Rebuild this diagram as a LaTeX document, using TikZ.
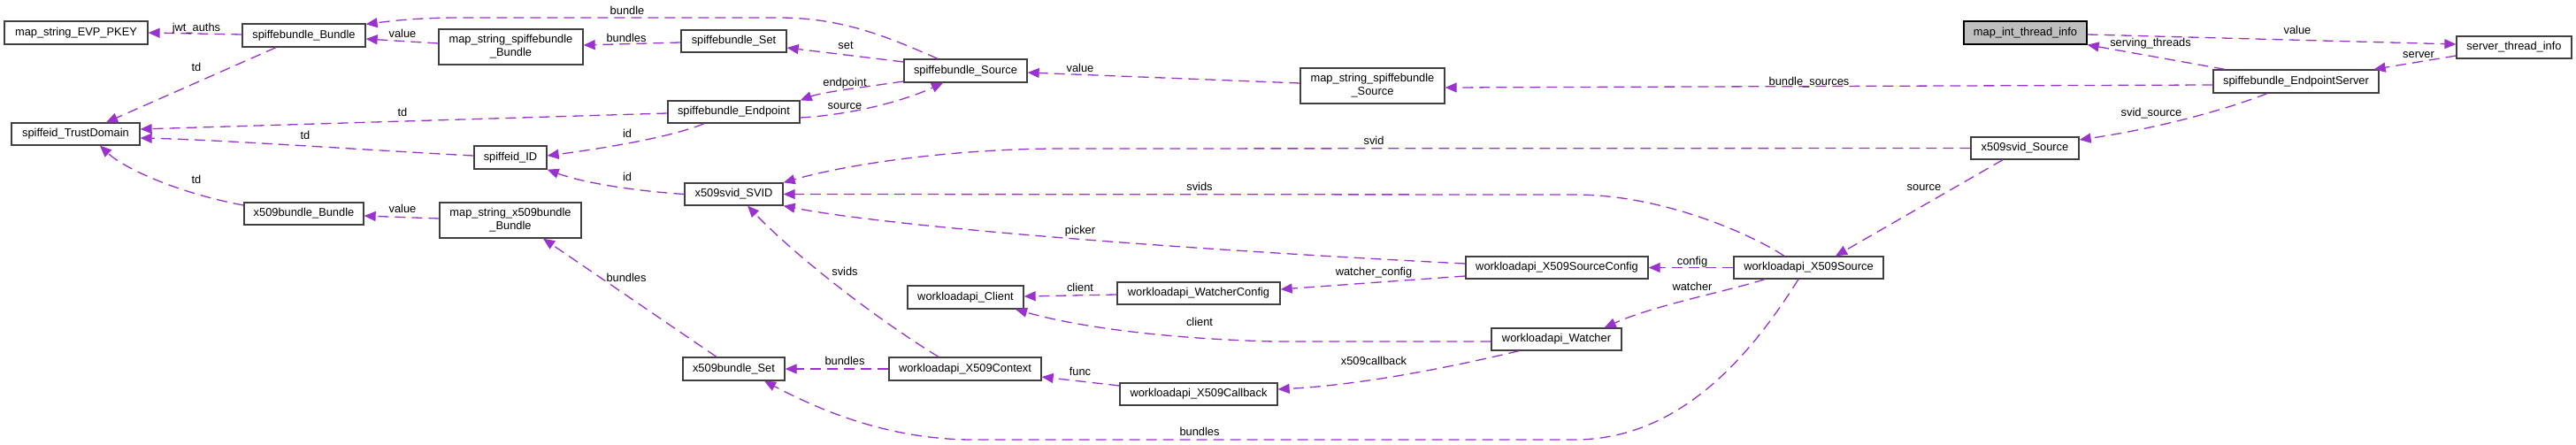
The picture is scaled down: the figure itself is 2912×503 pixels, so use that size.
\documentclass[tikz,border=0pt]{standalone}
\usepackage{fontspec}
\setmainfont{Liberation Sans}
\usetikzlibrary{arrows.meta,calc}
\definecolor{edgec}{HTML}{9A32CD}
\definecolor{boxc}{HTML}{404040}
\definecolor{rootfill}{HTML}{BFBFBF}
\tikzset{
  box/.style={draw=boxc, line width=1.3pt, fill=white, inner sep=0pt, align=center,
    font=\fontsize{12.85}{15}\selectfont},
  rootbox/.style={box, draw=black, fill=rootfill},
  usearrow/.style={draw=edgec, line width=1.3pt, dash pattern=on 12pt off 7pt,
    -{Triangle[length=13pt,width=11pt]}},
  lbl/.style={font=\fontsize{12.85}{15}\selectfont, inner sep=0pt, anchor=base},
}
\begin{document}
\begin{tikzpicture}[x=1pt,y=-1pt]
\useasboundingbox (0,0) rectangle (2912,503);
% nodes
\node[box, minimum width=162pt, minimum height=26pt] (evp) at (86,37) {map\_string\_EVP\_PKEY};
\node[box, minimum width=139pt, minimum height=26pt] (sbBundle) at (343.5,40) {spiffebundle\_Bundle};
\node[box, minimum width=145pt, minimum height=25pt] (td) at (85.5,151.5) {spiffeid\_TrustDomain};
\node[box, minimum width=135pt, minimum height=25pt] (xbBundle) at (343.5,241.5) {x509bundle\_Bundle};
\node[box, minimum width=163pt, minimum height=40pt] (mapSbB) at (577.5,53) {map\_string\_spiffebundle\\\_Bundle};
\node[box, minimum width=119pt, minimum height=25pt] (sbSet) at (829.5,46.5) {spiffebundle\_Set};
\node[box, minimum width=149pt, minimum height=25pt] (sbEndpoint) at (829.5,126.5) {spiffebundle\_Endpoint};
\node[box, minimum width=82pt, minimum height=26pt] (sid) at (577,178) {spiffeid\_ID};
\node[box, minimum width=111pt, minimum height=25pt] (svid) at (829.5,219.5) {x509svid\_SVID};
\node[box, minimum width=160pt, minimum height=40pt] (mapXbB) at (577,249) {map\_string\_x509bundle\\\_Bundle};
\node[box, minimum width=115pt, minimum height=26pt] (xbSet) at (829.5,417) {x509bundle\_Set};
\node[box, minimum width=139pt, minimum height=26pt] (sbSource) at (1091.5,80) {spiffebundle\_Source};
\node[box, minimum width=131pt, minimum height=26pt] (wClient) at (1091.5,336) {workloadapi\_Client};
\node[box, minimum width=184pt, minimum height=25pt] (wWConfig) at (1355,331.5) {workloadapi\_WatcherConfig};
\node[box, minimum width=172pt, minimum height=26pt] (wCtx) at (1091,417) {workloadapi\_X509Context};
\node[box, minimum width=178pt, minimum height=25pt] (wCb) at (1355,445.5) {workloadapi\_X509Callback};
\node[box, minimum width=163pt, minimum height=40pt] (mapSbS) at (1551.5,97) {map\_string\_spiffebundle\\\_Source};
\node[box, minimum width=206pt, minimum height=25pt] (wSC) at (1760,302.5) {workloadapi\_X509SourceConfig};
\node[box, minimum width=147pt, minimum height=25pt] (wWatcher) at (1759.5,383.5) {workloadapi\_Watcher};
\node[rootbox, minimum width=139pt, minimum height=26pt] (mit) at (2289.5,37) {map\_int\_thread\_info};
\node[box, minimum width=122pt, minimum height=25pt] (xsSource) at (2289,167.5) {x509svid\_Source};
\node[box, minimum width=169pt, minimum height=25pt] (wXS) at (2044.5,302.5) {workloadapi\_X509Source};
\node[box, minimum width=130pt, minimum height=25pt] (sti) at (2842,53.5) {server\_thread\_info};
\node[box, minimum width=187pt, minimum height=26pt] (sbES) at (2595.5,92) {spiffebundle\_EndpointServer};

% edges
\draw[usearrow] ($(sbBundle.west)+(0,-1)$) -- (evp.east);
\draw[usearrow] ($(sbBundle.south)+(-31.5,0)$) -- ($(td.north)+(34.5,0)$);
\draw[usearrow] ($(sbEndpoint.west)+(0,1.5)$) -- ($(td.east)+(0,-5.5)$);
\draw[usearrow] ($(sid.west)+(0,-2)$) .. controls (420,170) and (250,158) .. ($(td.east)+(0,4.5)$);
\draw[usearrow] ($(xbBundle.west)+(0,-9.5)$) .. controls (200,218) and (140,190) .. ($(td.south)+(27.5,0)$);
\draw[usearrow] ($(mapSbB.west)+(0,-4)$) -- ($(sbBundle.east)+(0,4)$);
\draw[usearrow] ($(sbSource.north)+(-31.5,0)$) .. controls (1000,40) and (950,20) .. (880,20)
   -- (520,20) .. controls (470,20) and (440,24) .. ($(sbBundle.north east)+(0,1)$);
\draw[usearrow] ($(sbSet.west)+(0,1.5)$) -- ($(mapSbB.east)+(0,-2)$);
\draw[usearrow] ($(sbSource.west)+(0,-10)$) -- ($(sbSet.east)+(0,7.5)$);
\draw[usearrow] ($(sbSource.west)+(0,12)$) .. controls (980,98) and (930,104) .. (sbEndpoint.north east);
\draw[usearrow] ($(sbEndpoint.east)+(0,6.5)$) .. controls (960,130) and (1020,115) .. ($(sbSource.south)+(-25.5,0)$);
\draw[usearrow] ($(sbEndpoint.south)+(-33.5,0)$) .. controls (760,155) and (680,168) .. ($(sid.east)+(0,-2)$);
\draw[usearrow] (svid.west) .. controls (720,216) and (660,207) .. (sid.south east);
\draw[usearrow] ($(mapXbB.west)+(0,-2)$) -- ($(xbBundle.east)+(0,2.5)$);
\draw[usearrow] ($(xbSet.north)+(-19.5,0)$) -- ($(mapXbB.south)+(37,0)$);
\draw[usearrow] (wCtx.west) -- (xbSet.east);
\draw[usearrow] ($(wCtx.north)+(-30,0)$) .. controls (990,360) and (900,290) .. ($(svid.south)+(15.5,0)$);
\draw[usearrow] ($(wXS.south)+(-11.5,0)$) .. controls (1980,400) and (1900,497) .. (1780,497)
   -- (1100,497) .. controls (1000,497) and (920,460) .. ($(xbSet.south)+(34.5,0)$);
\draw[usearrow] (xsSource.west) -- (1200,168) .. controls (1080,168) and (960,185) .. (svid.north east);
\draw[usearrow] ($(wXS.north)+(-27.5,0)$) .. controls (1980,265) and (1880,220) .. (1780,220) -- (svid.east);
\draw[usearrow] ($(wSC.west)+(0,-4.5)$) .. controls (1300,280) and (1000,255) .. (svid.south east);
\draw[usearrow] ($(wWConfig.west)+(0,1.5)$) -- ($(wClient.east)+(0,-1)$);
\draw[usearrow] ($(wWatcher.west)+(0,2.5)$) -- (1440,386) .. controls (1320,383) and (1220,370) .. ($(wClient.south)+(56.5,0)$);
\draw[usearrow] ($(wCb.west)+(0,-9.5)$) -- ($(wCtx.east)+(0,9)$);
\draw[usearrow] ($(wSC.west)+(0,9.5)$) -- ($(wWConfig.east)+(0,-4.5)$);
\draw[usearrow] ($(wWatcher.south)+(-42.5,0)$) .. controls (1640,415) and (1540,435) .. ($(wCb.east)+(0,-5.5)$);
\draw[usearrow] (wXS.west) -- (wSC.east);
\draw[usearrow] ($(wXS.south)+(-49.5,0)$) .. controls (1950,330) and (1870,345) .. ($(wWatcher.north east)+(-20,0)$);
\draw[usearrow] ($(xsSource.south)+(-25,0)$) -- ($(wXS.north)+(30.5,0)$);
\draw[usearrow] ($(sbES.south)+(-32.5,0)$) .. controls (2500,130) and (2420,148) .. ($(xsSource.east)+(0,-9.5)$);
\draw[usearrow] ($(sbES.west)+(0,4)$) -- ($(mapSbS.east)+(0,2)$);
\draw[usearrow] ($(mapSbS.west)+(0,-3)$) -- ($(sbSource.east)+(0,2)$);
\draw[usearrow] ($(sbES.north)+(-80.5,0)$) -- (mit.south east);
\draw[usearrow] ($(mit.east)+(0,2)$) -- ($(sti.west)+(0,-3.5)$);
\draw[usearrow] ($(sti.west)+(0,9.5)$) -- ($(sbES.north east)+(-6,0)$);

% labels
\node[lbl] (l1) at (222,35.6) {jwt\_auths};
\node[lbl] (l2) at (222,80.6) {td};
\node[lbl] (l3) at (455,131.6) {td};
\node[lbl] (l4) at (345,157.6) {td};
\node[lbl] (l5) at (222,207.6) {td};
\node[lbl] (l6) at (455,42.6) {value};
\node[lbl] (l7) at (455,240.6) {value};
\node[lbl] (l8) at (709,16.6) {bundle};
\node[lbl] (l9) at (708,47.6) {bundles};
\node[lbl] (l10) at (956,55.6) {set};
\node[lbl] (l11) at (955,97.6) {endpoint};
\node[lbl] (l12) at (955,123.6) {source};
\node[lbl] (l13) at (709,155.6) {id};
\node[lbl] (l14) at (709,204.6) {id};
\node[lbl] (l15) at (708,318.6) {bundles};
\node[lbl] (l16) at (955,311.6) {svids};
\node[lbl] (l17) at (955,412.6) {bundles};
\node[lbl] (l18) at (1221,81.6) {value};
\node[lbl] (l19) at (1356,215.6) {svids};
\node[lbl] (l20) at (1221,264.6) {picker};
\node[lbl] (l21) at (1221,329.6) {client};
\node[lbl] (l22) at (1356,368.6) {client};
\node[lbl] (l23) at (1221,424.6) {func};
\node[lbl] (l24) at (1356,492.6) {bundles};
\node[lbl] (l25) at (1553,163.6) {svid};
\node[lbl] (l26) at (1553,311.6) {watcher\_config};
\node[lbl] (l27) at (1913,299.6) {config};
\node[lbl] (l28) at (1913,328.6) {watcher};
\node[lbl] (l29) at (1553,412.6) {x509callback};
\node[lbl] (l30) at (2045,96.6) {bundle\_sources};
\node[lbl] (l31) at (2175,215.6) {source};
\node[lbl] (l32) at (2431,52.6) {serving\_threads};
\node[lbl] (l33) at (2432,131.6) {svid\_source};
\node[lbl] (l34) at (2597,38.6) {value};
\node[lbl] (l35) at (2734,65.6) {server};
\end{tikzpicture}
\end{document}
